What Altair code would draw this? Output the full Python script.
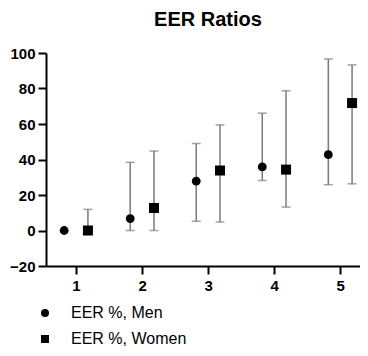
import altair as alt
import pandas as pd

groups = [1, 2, 3, 4, 5]
series = ["EER %, Men", "EER %, Women"]
men_val = [0.0, 6.7, 27.8, 35.8, 42.7]
men_low = [None, 0.0, 5.2, 28.2, 25.8]
men_high = [None, 38.4, 49.0, 66.1, 96.6]
women_val = [0.0, 12.7, 33.8, 34.3, 71.8]
women_low = [0.0, 0.0, 4.8, 13.2, 26.3]
women_high = [11.9, 44.8, 59.5, 78.7, 93.3]
y_ticks = [-20, 0, 20, 40, 60, 80, 100]

rows = []
for i, g in enumerate(groups):
    rows.append({"group": g, "series": series[0], "val": men_val[i], "low": men_low[i], "high": men_high[i]})
    rows.append({"group": g, "series": series[1], "val": women_val[i], "low": women_low[i], "high": women_high[i]})
df = pd.DataFrame(rows)

FONT = "Liberation Sans"

base = alt.Chart(df).transform_calculate(
    xpos="datum.group + (datum.series == 'EER %, Men' ? -0.18 : 0.18)"
)

xaxis = alt.Axis(values=groups, title=None, format="d", grid=False,
                 domainColor="black", domainWidth=2, tickColor="black",
                 tickWidth=2, tickSize=8, labelFont=FONT, labelFontSize=15,
                 labelFontWeight="bold", labelColor="black", labelPadding=4,
                 labelOverlap=False)
yaxis = alt.Axis(values=y_ticks, title=None, grid=False,
                 domainColor="black", domainWidth=2, tickColor="black",
                 tickWidth=2, tickSize=8, labelFont=FONT, labelFontSize=15,
                 labelFontWeight="bold", labelColor="black", labelPadding=3,
                 labelOverlap=False)
xscale = alt.Scale(domain=[0.545, 5.30], nice=False, zero=False)
yscale = alt.Scale(domain=[-20, 100], nice=False, zero=False)

X = alt.X("xpos:Q", scale=xscale, axis=xaxis)

rules = base.mark_rule(color="#7a7a7a", strokeWidth=1.5).encode(
    x=X,
    y=alt.Y("low:Q", scale=yscale, axis=yaxis),
    y2="high:Q",
)
caps_hi = base.mark_tick(color="#7a7a7a", thickness=1.5, size=9, orient="horizontal").encode(
    x=X, y=alt.Y("high:Q", scale=yscale, axis=yaxis))
caps_lo = base.mark_tick(color="#7a7a7a", thickness=1.5, size=9, orient="horizontal").encode(
    x=X, y=alt.Y("low:Q", scale=yscale, axis=yaxis))

shape_enc = alt.Shape("series:N", scale=alt.Scale(domain=series, range=["circle", "square"]),
                      legend=alt.Legend(title=None, orient="none", legendX=-9, legendY=252,
                                        labelFont=FONT, labelFontSize=16, labelColor="black",
                                        symbolFillColor="black", symbolStrokeColor="black",
                                        symbolSize=64, rowPadding=10, labelOffset=18,
                                        symbolType="circle"))

men_pts = base.transform_filter(alt.datum.series == series[0]).mark_point(
    filled=True, color="black", opacity=1, size=78).encode(
    x=X, y=alt.Y("val:Q", scale=yscale, axis=yaxis), shape=shape_enc)
women_pts = base.transform_filter(alt.datum.series == series[1]).mark_point(
    filled=True, color="black", opacity=1, size=100).encode(
    x=X, y=alt.Y("val:Q", scale=yscale, axis=yaxis), shape=shape_enc)

chart = alt.layer(rules, caps_hi, caps_lo, men_pts, women_pts).properties(
    width=314, height=213,
    title=alt.Title("EER Ratios", font=FONT, fontSize=20, fontWeight="bold",
                    color="black", anchor="middle", offset=16, dx=5),
    autosize=alt.AutoSizeParams(type="none"),
    padding={"left": 38, "top": 45, "right": 0, "bottom": 82},
).configure_view(stroke=None)

chart.save("out.html", embed_options={"renderer": "svg", "actions": False})
